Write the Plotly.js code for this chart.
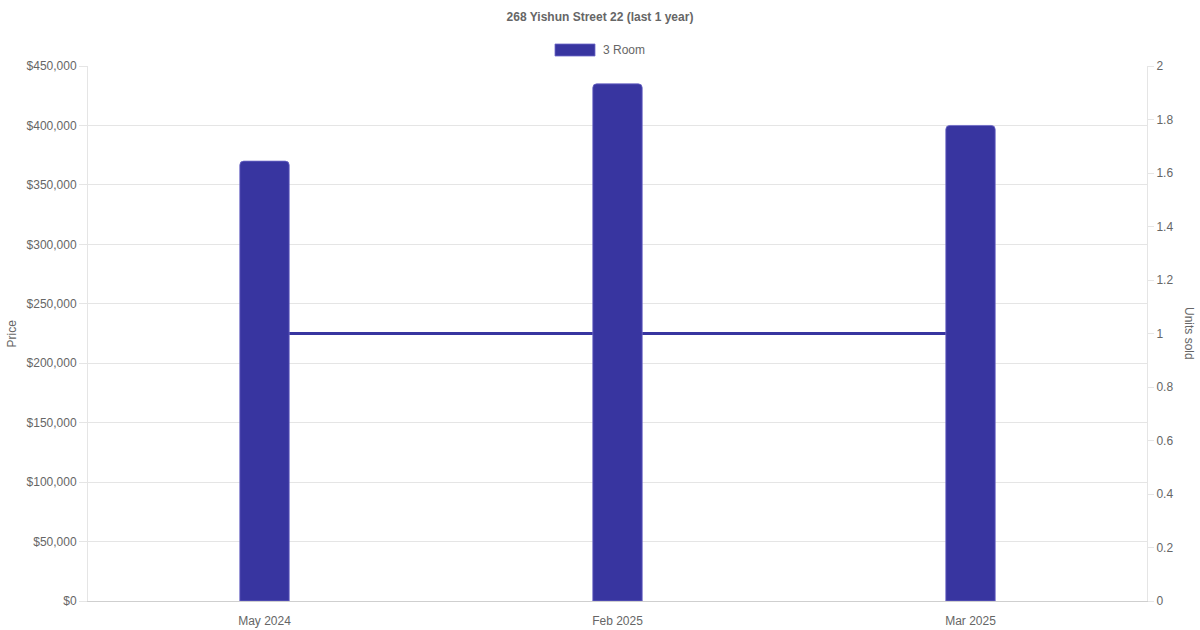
<!DOCTYPE html>
<html>
<head>
<meta charset="utf-8">
<script src="https://cdn.plot.ly/plotly-3.0.1.min.js"></script>
<style>html,body{margin:0;padding:0;background:#fff;}#chart{width:1200px;height:630px;}</style>
</head>
<body>
<div id="chart"></div>
<script>
const chartTitle = '268 Yishun Street 22 (last 1 year)';
const seriesName = '3 Room';
const months = ['May 2024', 'Feb 2025', 'Mar 2025'];
const prices = [370000, 435000, 400000];
const unitsSold = [1, 1, 1];
const priceTicks = [0, 50000, 100000, 150000, 200000, 250000, 300000, 350000, 400000, 450000];
const unitTicks = [0, 0.2, 0.4, 0.6, 0.8, 1, 1.2, 1.4, 1.6, 1.8, 2];

const color = 'rgb(56,53,160)';
const textColor = '#666666';
const gridColor = '#e5e5e5';
const fontFam = '"Liberation Sans", Arial, Helvetica, sans-serif';

const lineTrace = {
  type: 'scatter', mode: 'lines',
  x: months, y: unitsSold,
  xaxis: 'x', yaxis: 'y',
  line: {color: color, width: 3},
  showlegend: false, hoverinfo: 'skip'
};
const barTrace = {
  type: 'bar',
  x: months, y: prices,
  xaxis: 'x', yaxis: 'y2',
  width: 0.14,
  marker: {color: color, cornerradius: 4, line: {width: 1, color: 'rgba(110,105,200,0.8)'}},
  name: seriesName, showlegend: false, hoverinfo: 'skip'
};

const layout = {
  width: 1200, height: 630,
  paper_bgcolor: '#fff', plot_bgcolor: '#fff',
  margin: {l: 88, r: 53, t: 66, b: 29},
  font: {family: fontFam, size: 12, color: textColor},
  showlegend: false,
  hovermode: false,
  title: {text: '<b>' + chartTitle + '</b>', x: 0.5, xanchor: 'center', y: 1 - 17/630, yanchor: 'middle',
          font: {family: fontFam, size: 12, color: textColor}},
  xaxis: {
    type: 'category', range: [-0.5, 2.5],
    showgrid: false, showline: true, linecolor: '#cfcfcf', linewidth: 1,
    ticks: '', ticklabelstandoff: 9, tickfont: {size: 12, color: textColor}, zeroline: false
  },
  yaxis: {
    side: 'right', range: [0, 2],
    tickvals: unitTicks, ticktext: unitTicks.map(String),
    showgrid: false, zeroline: false,
    showline: true, linecolor: gridColor, linewidth: 1,
    ticks: 'outside', ticklen: 6, tickcolor: gridColor,
    tickfont: {size: 12, color: textColor}
  },
  yaxis2: {
    side: 'left', overlaying: 'y', range: [0, 450000],
    tickvals: priceTicks,
    ticktext: priceTicks.map(v => '$' + v.toLocaleString('en-US')),
    showgrid: true, gridcolor: gridColor, gridwidth: 1, zeroline: false,
    showline: true, linecolor: gridColor, linewidth: 1,
    ticks: 'outside', ticklen: 8, tickcolor: gridColor,
    tickfont: {size: 12, color: textColor}
  },
  shapes: [
    {type: 'rect', xref: 'paper', yref: 'paper',
     x0: (555 - 88) / 1059, x1: (595 - 88) / 1059,
     y0: (601 - 56) / 535, y1: (601 - 44) / 535,
     fillcolor: color, line: {width: 1, color: 'rgba(110,105,200,0.8)'}}
  ],
  annotations: [
    {text: seriesName, xref: 'paper', yref: 'paper',
     x: (601 - 88) / 1059, y: (601 - 50) / 535, xanchor: 'left', yanchor: 'middle',
     showarrow: false, font: {size: 12, color: textColor}},
    {text: 'Price', xref: 'paper', yref: 'paper',
     x: (11 - 88) / 1059, y: 0.5, xanchor: 'center', yanchor: 'middle', textangle: -90,
     showarrow: false, font: {size: 12, color: textColor}},
    {text: 'Units sold', xref: 'paper', yref: 'paper',
     x: (1189 - 88) / 1059, y: (601 - 333) / 535, xanchor: 'center', yanchor: 'middle', textangle: 90,
     showarrow: false, font: {size: 12, color: textColor}}
  ]
};

Plotly.newPlot('chart', [lineTrace, barTrace], layout, {staticPlot: true, displayModeBar: false});
</script>
</body>
</html>
